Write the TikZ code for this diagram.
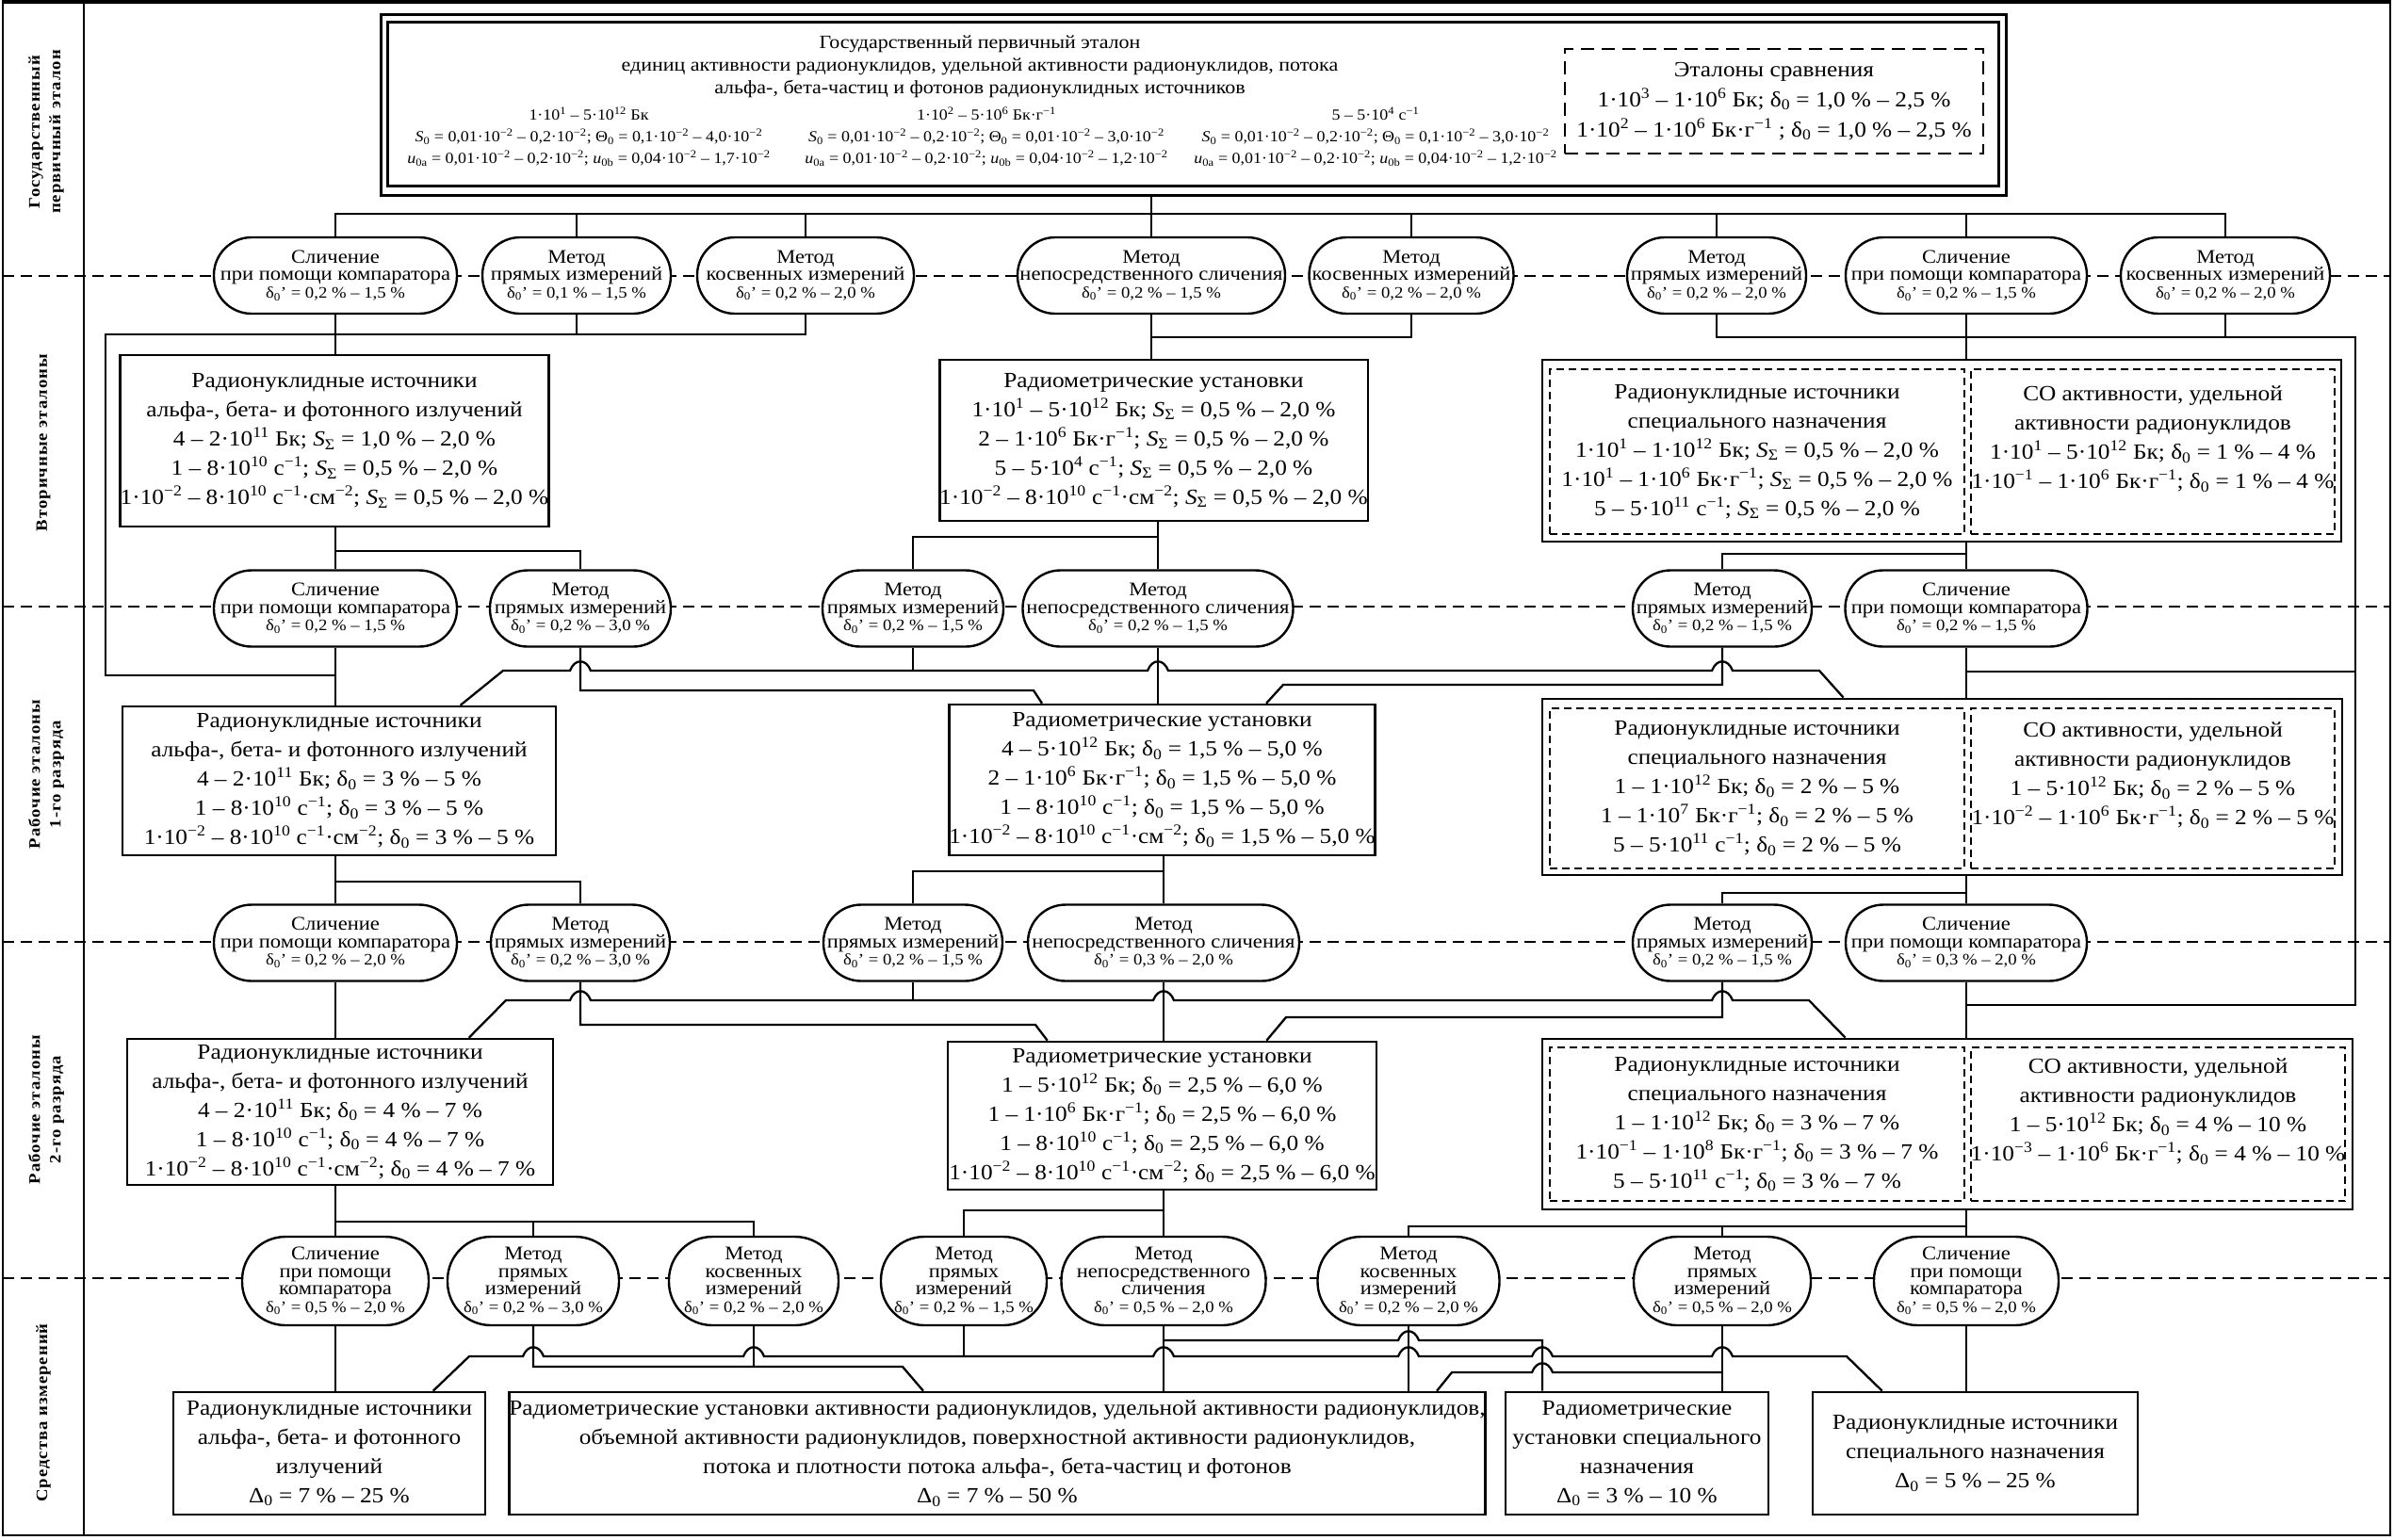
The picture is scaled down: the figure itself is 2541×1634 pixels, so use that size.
\documentclass[tikz,border=0pt]{standalone}
\usepackage{fontspec}
\setmainfont{Liberation Serif}[FakeStretch=1.1]
\usetikzlibrary{calc}
\newcommand\mySp[1]{\textsuperscript{#1}}
\newcommand\mySb[1]{\textsubscript{#1}}
\newcommand\mySig{\textit{S}\mySb{Σ}}
\newcommand\myDel{δ\mySb{0}}
\newcommand\myDelP{δ\mySb{0}'}
\newcommand\myDD{Δ\mySb{0}}
\newcommand\fbig{\fontsize{23}{31}\selectfont\lineskiplimit=-50pt}
\newcommand\fov{\fontsize{20.5}{18.5}\selectfont\lineskiplimit=-50pt}
\newcommand\fdel{\fontsize{17}{18.5}\selectfont}
\newcommand\ftitle{\fontsize{20}{24}\selectfont\lineskiplimit=-50pt}
\newcommand\fnum{\fontsize{16.3}{23}\selectfont\lineskiplimit=-50pt}
\newcommand\fcmp{\fontsize{23}{32}\selectfont\lineskiplimit=-50pt}
\newcommand\flab{\fontsize{17}{22}\selectfont\bfseries\addfontfeature{LetterSpace=6}}
\newcommand\myhop[2]{-- ($(#1 |- #2)+(-11,0)$) .. controls ($(#1 |- #2)+(-6,-13)$) and ($(#1 |- #2)+(6,-13)$) .. ($(#1 |- #2)+(11,0)$)}
\begin{document}
\begin{tikzpicture}[x=1pt,y=-1pt,
  conn/.style={line width=2.3pt},
  bx/.style={draw, line width=2.6pt, fill=white, inner sep=0pt, align=center, font=\fbig},
  cont/.style={draw, line width=2.8pt, fill=white, inner sep=0pt},
  dbx/.style={draw, line width=1.8pt, dash pattern=on 8pt off 5pt, inner sep=0pt, align=center, font=\fbig},
  ov/.style={draw, line width=2.4pt, fill=white, rounded corners=40pt, inner sep=0pt, align=center, font=\fov, minimum height=81pt},
  ovb/.style={ov, rounded corners=46pt, minimum height=94pt},
  rowline/.style={line width=2pt, dash pattern=on 12pt off 7pt},
  lab/.style={rotate=90, align=center, font=\flab, inner sep=0pt},
  txt/.style={align=center, inner sep=0pt}]
\useasboundingbox (0,0) rectangle (2541,1634);
\fill[white] (0,0) rectangle (2541,1634);
% level separators
\foreach \yy in {293,644,1000,1357} \draw[rowline] (3,\yy) -- (2537,\yy);
% frame
\draw[line width=2pt] (3,1) rectangle (2537,1630);
\draw[line width=3.5pt] (3,2) -- (2537,2);
\draw[line width=2.4pt] (89,1) -- (89,1630);
% labels
\node[lab] (labA) at (49,140) {Государственный\\первичный эталон};
\node[lab] (labB) at (46,470) {Вторичные эталоны};
\node[lab] (labC) at (49,822) {Рабочие эталоны\\1-го разряда};
\node[lab] (labD) at (49,1178) {Рабочие эталоны\\2-го разряда};
\node[lab] (labE) at (46,1500) {Средства измерений};

% ---------- state primary standard ----------
\node[draw, line width=3pt, minimum width=1725pt, minimum height=192pt, inner sep=0pt, fill=white] (gpe) at (1266.5,111) {};
\draw[line width=2.4pt] ($(gpe.north west)+(9,10)$) rectangle ($(gpe.south east)+(-9,-11)$);
\node[txt, font=\ftitle] (gpeT) at (1040,71) {Государственный первичный эталон\\единиц активности радионуклидов, удельной активности радионуклидов, потока\\альфа-, бета-частиц и фотонов радионуклидных источников};
\node[txt, font=\fnum] (gpe1) at (625,145) {1·10\mySp{1} – 5·10\mySp{12} Бк\\
\textit{S}\mySb{0} = 0,01·10\mySp{−2} – 0,2·10\mySp{−2}; Θ\mySb{0} = 0,1·10\mySp{−2} – 4,0·10\mySp{−2}\\
\textit{u}\mySb{0a} = 0,01·10\mySp{−2} – 0,2·10\mySp{−2}; \textit{u}\mySb{0b} = 0,04·10\mySp{−2} – 1,7·10\mySp{−2}};
\node[txt, font=\fnum] (gpe2) at (1047,145) {1·10\mySp{2} – 5·10\mySp{6} Бк·г\mySp{−1}\\
\textit{S}\mySb{0} = 0,01·10\mySp{−2} – 0,2·10\mySp{−2}; Θ\mySb{0} = 0,01·10\mySp{−2} – 3,0·10\mySp{−2}\\
\textit{u}\mySb{0a} = 0,01·10\mySp{−2} – 0,2·10\mySp{−2}; \textit{u}\mySb{0b} = 0,04·10\mySp{−2} – 1,2·10\mySp{−2}};
\node[txt, font=\fnum] (gpe3) at (1460,145) {5 – 5·10\mySp{4} с\mySp{−1}\\
\textit{S}\mySb{0} = 0,01·10\mySp{−2} – 0,2·10\mySp{−2}; Θ\mySb{0} = 0,1·10\mySp{−2} – 3,0·10\mySp{−2}\\
\textit{u}\mySb{0a} = 0,01·10\mySp{−2} – 0,2·10\mySp{−2}; \textit{u}\mySb{0b} = 0,04·10\mySp{−2} – 1,2·10\mySp{−2}};
\node[draw, line width=2pt, dash pattern=on 14pt off 8pt, minimum width=444pt, minimum height=111pt, align=center, inner sep=0pt, font=\fcmp] (cmp) at (1883,107.5) {Эталоны сравнения\\1·10\mySp{3} – 1·10\mySp{6} Бк; \myDel{} = 1,0 \% – 2,5 \%\\1·10\mySp{2} – 1·10\mySp{6} Бк·г\mySp{−1} ; \myDel{} = 1,0 \% – 2,5 \%};

% ---------- row 1 methods ----------
\node[ov, minimum width=258pt] (A1) at (356,292.5) {Сличение\\при помощи компаратора\\{\fdel\myDelP{} = 0,2 \% – 1,5 \%}};
\node[ov, minimum width=200pt] (A2) at (612,292.5) {Метод\\прямых измерений\\{\fdel\myDelP{} = 0,1 \% – 1,5 \%}};
\node[ov, minimum width=230pt] (A3) at (855,292.5) {Метод\\косвенных измерений\\{\fdel\myDelP{} = 0,2 \% – 2,0 \%}};
\node[ov, minimum width=284pt] (A4) at (1222,292.5) {Метод\\непосредственного сличения\\{\fdel\myDelP{} = 0,2 \% – 1,5 \%}};
\node[ov, minimum width=217pt] (A5) at (1498,292.5) {Метод\\косвенных измерений\\{\fdel\myDelP{} = 0,2 \% – 2,0 \%}};
\node[ov, minimum width=190pt] (A6) at (1822,292.5) {Метод\\прямых измерений\\{\fdel\myDelP{} = 0,2 \% – 2,0 \%}};
\node[ov, minimum width=256pt] (A7) at (2087,292.5) {Сличение\\при помощи компаратора\\{\fdel\myDelP{} = 0,2 \% – 1,5 \%}};
\node[ov, minimum width=222pt] (A8) at (2362,292.5) {Метод\\косвенных измерений\\{\fdel\myDelP{} = 0,2 \% – 2,0 \%}};

% ---------- secondary standards ----------
\node[bx, minimum width=441pt, minimum height=182pt] (B1) at (355,468) {Радионуклидные источники\\альфа-, бета- и фотонного излучений\\4 – 2·10\mySp{11} Бк; \mySig{} = 1,0 \% – 2,0 \%\\1 – 8·10\mySp{10} с\mySp{−1}; \mySig{} = 0,5 \% – 2,0 \%\\1·10\mySp{−2} – 8·10\mySp{10} с\mySp{−1}·см\mySp{−2}; \mySig{} = 0,5 \% – 2,0 \%};
\node[bx, minimum width=449pt, minimum height=171pt] (B2) at (1224.5,467.5) {Радиометрические установки\\1·10\mySp{1} – 5·10\mySp{12} Бк; \mySig{} = 0,5 \% – 2,0 \%\\2 – 1·10\mySp{6} Бк·г\mySp{−1}; \mySig{} = 0,5 \% – 2,0 \%\\5 – 5·10\mySp{4} с\mySp{−1}; \mySig{} = 0,5 \% – 2,0 \%\\1·10\mySp{−2} – 8·10\mySp{10} с\mySp{−1}·см\mySp{−2}; \mySig{} = 0,5 \% – 2,0 \%};
\node[cont, minimum width=848pt, minimum height=193pt] (B3) at (2061,478.5) {};
\node[dbx, minimum width=440pt, minimum height=175pt] (B3L) at (1865,479.5) {Радионуклидные источники\\специального назначения\\1·10\mySp{1} – 1·10\mySp{12} Бк; \mySig{} = 0,5 \% – 2,0 \%\\1·10\mySp{1} – 1·10\mySp{6} Бк·г\mySp{−1}; \mySig{} = 0,5 \% – 2,0 \%\\5 – 5·10\mySp{11} с\mySp{−1}; \mySig{} = 0,5 \% – 2,0 \%};
\node[dbx, minimum width=386pt, minimum height=175pt] (B3R) at (2285,479.5) {СО активности, удельной\\активности радионуклидов\\1·10\mySp{1} – 5·10\mySp{12} Бк; \myDel{} = 1 \% – 4 \%\\1·10\mySp{−1} – 1·10\mySp{6} Бк·г\mySp{−1}; \myDel{} = 1 \% – 4 \%\\\mbox{}};

% ---------- row 2 methods ----------
\node[ov, minimum width=258pt] (C1) at (356,646) {Сличение\\при помощи компаратора\\{\fdel\myDelP{} = 0,2 \% – 1,5 \%}};
\node[ov, minimum width=192pt] (C2) at (616,646) {Метод\\прямых измерений\\{\fdel\myDelP{} = 0,2 \% – 3,0 \%}};
\node[ov, minimum width=192pt] (C3) at (969,646) {Метод\\прямых измерений\\{\fdel\myDelP{} = 0,2 \% – 1,5 \%}};
\node[ov, minimum width=287pt] (C4) at (1229,646) {Метод\\непосредственного сличения\\{\fdel\myDelP{} = 0,2 \% – 1,5 \%}};
\node[ov, minimum width=190pt] (C5) at (1828,646) {Метод\\прямых измерений\\{\fdel\myDelP{} = 0,2 \% – 1,5 \%}};
\node[ov, minimum width=257pt] (C6) at (2087,646) {Сличение\\при помощи компаратора\\{\fdel\myDelP{} = 0,2 \% – 1,5 \%}};

% ---------- working standards, 1st rank ----------
\node[bx, minimum width=460pt, minimum height=158pt] (D1) at (360,829) {Радионуклидные источники\\альфа-, бета- и фотонного излучений\\4 – 2·10\mySp{11} Бк; \myDel{} = 3 \% – 5 \%\\1 – 8·10\mySp{10} с\mySp{−1}; \myDel{} = 3 \% – 5 \%\\1·10\mySp{−2} – 8·10\mySp{10} с\mySp{−1}·см\mySp{−2}; \myDel{} = 3 \% – 5 \%};
\node[bx, minimum width=447pt, minimum height=160pt] (D2) at (1233.5,828) {Радиометрические установки\\4 – 5·10\mySp{12} Бк; \myDel{} = 1,5 \% – 5,0 \%\\2 – 1·10\mySp{6} Бк·г\mySp{−1}; \myDel{} = 1,5 \% – 5,0 \%\\1 – 8·10\mySp{10} с\mySp{−1}; \myDel{} = 1,5 \% – 5,0 \%\\1·10\mySp{−2} – 8·10\mySp{10} с\mySp{−1}·см\mySp{−2}; \myDel{} = 1,5 \% – 5,0 \%};
\node[cont, minimum width=849pt, minimum height=187pt] (D3) at (2061.5,835.5) {};
\node[dbx, minimum width=440pt, minimum height=170pt] (D3L) at (1865,837) {Радионуклидные источники\\специального назначения\\1 – 1·10\mySp{12} Бк; \myDel{} = 2 \% – 5 \%\\1 – 1·10\mySp{7} Бк·г\mySp{−1}; \myDel{} = 2 \% – 5 \%\\5 – 5·10\mySp{11} с\mySp{−1}; \myDel{} = 2 \% – 5 \%};
\node[dbx, minimum width=386pt, minimum height=170pt] (D3R) at (2285,837) {СО активности, удельной\\активности радионуклидов\\1 – 5·10\mySp{12} Бк; \myDel{} = 2 \% – 5 \%\\1·10\mySp{−2} – 1·10\mySp{6} Бк·г\mySp{−1}; \myDel{} = 2 \% – 5 \%\\\mbox{}};

% ---------- row 3 methods ----------
\node[ov, minimum width=258pt] (E1) at (356,1001) {Сличение\\при помощи компаратора\\{\fdel\myDelP{} = 0,2 \% – 2,0 \%}};
\node[ov, minimum width=190pt] (E2) at (616,1001) {Метод\\прямых измерений\\{\fdel\myDelP{} = 0,2 \% – 3,0 \%}};
\node[ov, minimum width=190pt] (E3) at (969,1001) {Метод\\прямых измерений\\{\fdel\myDelP{} = 0,2 \% – 1,5 \%}};
\node[ov, minimum width=288pt] (E4) at (1235,1001) {Метод\\непосредственного сличения\\{\fdel\myDelP{} = 0,3 \% – 2,0 \%}};
\node[ov, minimum width=190pt] (E5) at (1828,1001) {Метод\\прямых измерений\\{\fdel\myDelP{} = 0,2 \% – 1,5 \%}};
\node[ov, minimum width=256pt] (E6) at (2087,1001) {Сличение\\при помощи компаратора\\{\fdel\myDelP{} = 0,3 \% – 2,0 \%}};

% ---------- working standards, 2nd rank ----------
\node[bx, minimum width=452pt, minimum height=155pt] (F1) at (361,1180.5) {Радионуклидные источники\\альфа-, бета- и фотонного излучений\\4 – 2·10\mySp{11} Бк; \myDel{} = 4 \% – 7 \%\\1 – 8·10\mySp{10} с\mySp{−1}; \myDel{} = 4 \% – 7 \%\\1·10\mySp{−2} – 8·10\mySp{10} с\mySp{−1}·см\mySp{−2}; \myDel{} = 4 \% – 7 \%};
\node[bx, minimum width=455pt, minimum height=157pt] (F2) at (1233.5,1184.5) {Радиометрические установки\\1 – 5·10\mySp{12} Бк; \myDel{} = 2,5 \% – 6,0 \%\\1 – 1·10\mySp{6} Бк·г\mySp{−1}; \myDel{} = 2,5 \% – 6,0 \%\\1 – 8·10\mySp{10} с\mySp{−1}; \myDel{} = 2,5 \% – 6,0 \%\\1·10\mySp{−2} – 8·10\mySp{10} с\mySp{−1}·см\mySp{−2}; \myDel{} = 2,5 \% – 6,0 \%};
\node[cont, minimum width=860pt, minimum height=181pt] (F3) at (2067,1193.5) {};
\node[dbx, minimum width=440pt, minimum height=163pt] (F3L) at (1865,1193.5) {Радионуклидные источники\\специального назначения\\1 – 1·10\mySp{12} Бк; \myDel{} = 3 \% – 7 \%\\1·10\mySp{−1} – 1·10\mySp{8} Бк·г\mySp{−1}; \myDel{} = 3 \% – 7 \%\\5 – 5·10\mySp{11} с\mySp{−1}; \myDel{} = 3 \% – 7 \%};
\node[dbx, minimum width=397pt, minimum height=163pt] (F3R) at (2290.5,1193.5) {СО активности, удельной\\активности радионуклидов\\1 – 5·10\mySp{12} Бк; \myDel{} = 4 \% – 10 \%\\1·10\mySp{−3} – 1·10\mySp{6} Бк·г\mySp{−1}; \myDel{} = 4 \% – 10 \%\\\mbox{}};

% ---------- row 4 methods ----------
\node[ovb, minimum width=198pt] (G1) at (356,1360) {Сличение\\при помощи\\компаратора\\{\fdel\myDelP{} = 0,5 \% – 2,0 \%}};
\node[ovb, minimum width=182pt] (G2) at (566,1360) {Метод\\прямых\\измерений\\{\fdel\myDelP{} = 0,2 \% – 3,0 \%}};
\node[ovb, minimum width=180pt] (G3) at (800,1360) {Метод\\косвенных\\измерений\\{\fdel\myDelP{} = 0,2 \% – 2,0 \%}};
\node[ovb, minimum width=176pt] (G4) at (1023,1360) {Метод\\прямых\\измерений\\{\fdel\myDelP{} = 0,2 \% – 1,5 \%}};
\node[ovb, minimum width=217pt] (G5) at (1235,1360) {Метод\\непосредственного\\сличения\\{\fdel\myDelP{} = 0,5 \% – 2,0 \%}};
\node[ovb, minimum width=193pt] (G6) at (1495,1360) {Метод\\косвенных\\измерений\\{\fdel\myDelP{} = 0,2 \% – 2,0 \%}};
\node[ovb, minimum width=188pt] (G7) at (1828,1360) {Метод\\прямых\\измерений\\{\fdel\myDelP{} = 0,5 \% – 2,0 \%}};
\node[ovb, minimum width=196pt] (G8) at (2087,1360) {Сличение\\при помощи\\компаратора\\{\fdel\myDelP{} = 0,5 \% – 2,0 \%}};

% ---------- measuring instruments ----------
\node[bx, minimum width=331pt, minimum height=130pt] (H1) at (349.5,1543) {Радионуклидные источники\\альфа-, бета- и фотонного\\излучений\\\myDD{} = 7 \% – 25 \%};
\node[bx, minimum width=1033pt, minimum height=130pt] (H2) at (1058.5,1543) {Радиометрические установки активности радионуклидов, удельной активности радионуклидов,\\объемной активности радионуклидов, поверхностной активности радионуклидов,\\потока и плотности потока альфа-, бета-частиц и фотонов\\\myDD{} = 7 \% – 50 \%};
\node[bx, minimum width=279pt, minimum height=130pt] (H3) at (1737.5,1543) {Радиометрические\\установки специального\\назначения\\\myDD{} = 3 \% – 10 \%};
\node[bx, minimum width=345pt, minimum height=130pt] (H4) at (2096.5,1543) {Радионуклидные источники\\специального назначения\\\myDD{} = 5 \% – 25 \%};

% ---------- helper coordinates ----------
\coordinate (yTop) at (0,227);
\coordinate (xBL) at (112,0);
\coordinate (y1L) at (0,355);
\coordinate (y1M) at (0,358);
\coordinate (xBR) at (2500,0);
\coordinate (yByL) at (0,717);
\coordinate (yByR1) at (0,713);
\coordinate (yByR2) at (0,1067);
\coordinate (yB1) at (0,585);
\coordinate (yB2) at (0,570);
\coordinate (yB3) at (0,588);
\coordinate (c2a) at (1097,733);
\coordinate (L1a) at (534,712);
\coordinate (L1b) at (1931,712);
\coordinate (c5a) at (1362,727);
\coordinate (yD1) at (0,936);
\coordinate (yD2) at (0,925);
\coordinate (yD3) at (0,948);
\coordinate (e2a) at (1099,1088);
\coordinate (M0a) at (537,1062);
\coordinate (M0b) at (1920,1062);
\coordinate (e5a) at (1365,1080);
\coordinate (yF1) at (0,1297);
\coordinate (yF2) at (0,1285);
\coordinate (yF3) at (0,1302);
\coordinate (m2a) at (958,1451);
\coordinate (m1a) at (498,1440);
\coordinate (m1b) at (1960,1440);
\coordinate (g5c) at (1637,1423);
\coordinate (g7a) at (1541,1457);

% ---------- connectors: primary -> row 1 ----------
\draw[conn] (A4.north |- gpe.south) -- (A4.north);
\draw[conn] (A1.north) |- (A8.north |- yTop) -- (A8.north);
\foreach \n in {A2,A3,A5,A6,A7} \draw[conn] (\n.north) -- (\n.north |- yTop);
% row 1 -> secondary
\draw[conn] (A1.south) -- (A1.south |- B1.north);
\draw[conn] (A2.south) -- (A2.south |- y1L);
\draw[conn] (A3.south) |- (xBL |- y1L) -- (xBL |- yByL) -- (C1.south |- yByL);
\draw[conn] (A4.south) -- (A4.south |- B2.north);
\draw[conn] (A5.south) |- (A4.south |- y1M);
\draw[conn] (A6.south) |- (xBR |- y1M) -- (xBR |- yByR2) -- (E6.south |- yByR2);
\draw[conn] (A7.south) -- (A7.south |- B3.north);
\draw[conn] (A8.south) -- (A8.south |- y1M);
\draw[conn] (xBR |- yByR1) -- (C6.south |- yByR1);
% secondary -> row 2
\draw[conn] (C1.north |- B1.south) -- (C1.north);
\draw[conn] (C1.north |- yB1) -| (C2.north);
\draw[conn] (C4.north |- B2.south) -- (C4.north);
\draw[conn] (C4.north |- yB2) -| (C3.north);
\draw[conn] (C6.north |- B3.south) -- (C6.north);
\draw[conn] (C6.north |- yB3) -| (C5.north);
% row 2 -> 1st rank
\draw[conn] (C1.south) -- (C1.south |- D1.north);
\draw[conn] (C2.south) |- (c2a) -- ($(D2.north west)+(100,0)$);
\draw[conn] ($(D1.north west)+(360,0)$) -- (L1a) \myhop{C2.south}{L1a} \myhop{C4.south}{L1a} \myhop{C5.south}{L1a} -- (L1b) -- ($(D3.north west)+(321,0)$);
\draw[conn] (C3.south) -- (C3.south |- L1a);
\draw[conn] (C4.south) -- (C4.south |- D2.north);
\draw[conn] (C5.south) |- (c5a) -- ($(D2.north east)+(-117,0)$);
\draw[conn] (C6.south) -- (C6.south |- D3.north);
% 1st rank -> row 3
\draw[conn] (E1.north |- D1.south) -- (E1.north);
\draw[conn] (E1.north |- yD1) -| (E2.north);
\draw[conn] (E4.north |- D2.south) -- (E4.north);
\draw[conn] (E4.north |- yD2) -| (E3.north);
\draw[conn] (E6.north |- D3.south) -- (E6.north);
\draw[conn] (E6.north |- yD3) -| (E5.north);
% row 3 -> 2nd rank
\draw[conn] (E1.south) -- (E1.south |- F1.north);
\draw[conn] (E2.south) |- (e2a) -- ($(F2.north west)+(107,0)$);
\draw[conn] ($(F1.north west)+(364,0)$) -- (M0a) \myhop{E2.south}{M0a} \myhop{E4.south}{M0a} \myhop{E5.south}{M0a} -- (M0b) -- ($(F3.north west)+(323,0)$);
\draw[conn] (E3.south) -- (E3.south |- M0a);
\draw[conn] (E4.south) -- (E4.south |- F2.north);
\draw[conn] (E5.south) |- (e5a) -- ($(F2.north east)+(-118,0)$);
\draw[conn] (E6.south) -- (E6.south |- F3.north);
% 2nd rank -> row 4
\draw[conn] (G1.north |- F1.south) -- (G1.north);
\draw[conn] (G1.north |- yF1) -| (G3.north);
\draw[conn] (G2.north |- yF1) -- (G2.north);
\draw[conn] (G5.north |- F2.south) -- (G5.north);
\draw[conn] (G5.north |- yF2) -| (G4.north);
\draw[conn] (G8.north |- F3.south) -- (G8.north);
\draw[conn] (G8.north |- yF3) -| (G6.north);
\draw[conn] (G7.north |- yF3) -- (G7.north);
% row 4 -> measuring instruments
\draw[conn] (G1.south) -- (G1.south |- H1.north);
\draw[conn] (G2.south) |- (m2a) -- ($(H2.north west)+(441,0)$);
\draw[conn] (G3.south) -- (G3.south |- m2a);
\draw[conn] ($(H1.north west)+(277,0)$) -- (m1a) \myhop{G2.south}{m1a} \myhop{G3.south}{m1a} \myhop{G5.south}{m1a} \myhop{G6.south}{m1a} \myhop{g5c}{m1a} \myhop{G7.south}{m1a} -- (m1b) -- ($(H4.north west)+(75,0)$);
\draw[conn] (G4.south) -- (G4.south |- m1a);
\draw[conn] (G5.south) -- (G5.south |- H2.north);
\draw[conn] (G5.south |- g5c) \myhop{G6.south}{g5c} -- (g5c) -- (g5c |- H3.north);
\draw[conn] (G6.south) -- (G6.south |- H2.north);
\draw[conn] (G7.south) -- (G7.south |- H3.north);
\draw[conn] ($(H2.north east)+(-53,0)$) -- (g7a) \myhop{g5c}{g7a} -- (G7.south |- g7a);
\draw[conn] (G8.south) -- (G8.south |- H4.north);
\end{tikzpicture}
\end{document}
